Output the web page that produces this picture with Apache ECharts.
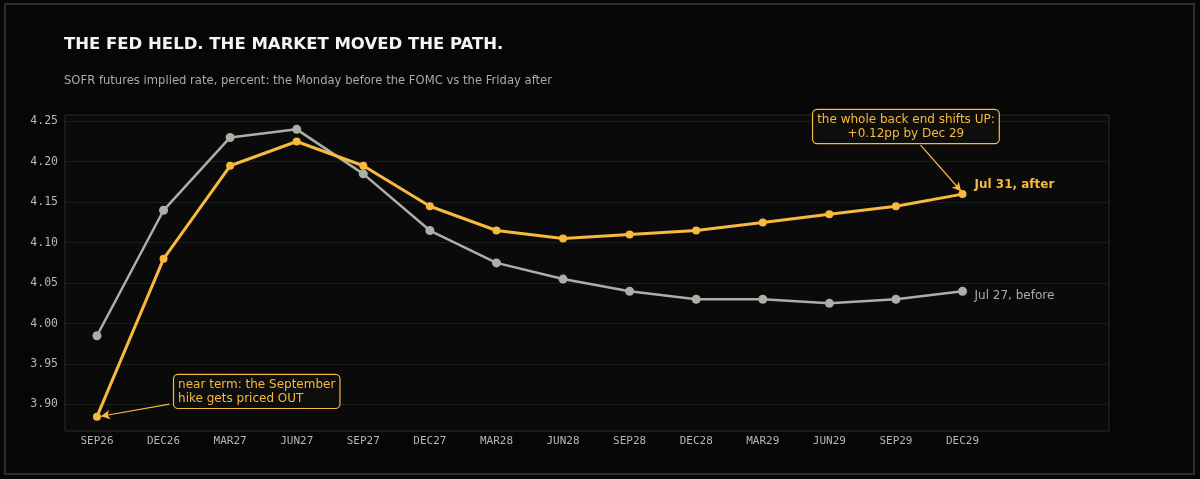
<!DOCTYPE html>
<html>
<head>
<meta charset="utf-8">
<script src="https://cdn.jsdelivr.net/npm/echarts@6/dist/echarts.min.js"></script>
<style>
  html, body { margin: 0; padding: 0; background: #060606; }
  #chart { width: 1200px; height: 479px; }
</style>
</head>
<body>
<div id="chart"></div>
<script>
var contracts = ['SEP26', 'DEC26', 'MAR27', 'JUN27', 'SEP27', 'DEC27', 'MAR28',
                 'JUN28', 'SEP28', 'DEC28', 'MAR29', 'JUN29', 'SEP29', 'DEC29'];
// Monday before the FOMC
var before = [3.985, 4.14, 4.23, 4.24, 4.185, 4.115, 4.075,
              4.055, 4.04, 4.03, 4.03, 4.025, 4.03, 4.04];
// Friday after
var after = [3.885, 4.08, 4.195, 4.225, 4.195, 4.145, 4.115,
             4.105, 4.11, 4.115, 4.125, 4.135, 4.145, 4.16];
var yTicks = [3.90, 3.95, 4.00, 4.05, 4.10, 4.15, 4.20, 4.25];

var orange = '#f7b93e';
var grey = '#a9b0a6';

function pairs(vals) {
    return vals.map(function (v, i) { return [i, v]; });
}
var xIdx = contracts.map(function (c, i) { return i; });

var myChart = echarts.init(document.getElementById('chart'));
var option = {
    backgroundColor: '#060606',
    animation: false,
    graphic: [{
        type: 'rect',
        shape: { x: 5, y: 4, width: 1189, height: 470 },
        style: { fill: 'none', stroke: '#2c2e2c', lineWidth: 2 },
        silent: true
    }],
    title: {
        text: 'THE FED HELD. THE MARKET MOVED THE PATH.',
        subtext: 'SOFR futures implied rate, percent: the Monday before the FOMC vs the Friday after',
        left: 59,
        top: 31,
        itemGap: 22,
        textStyle: { color: '#f4f4f0', fontFamily: 'DejaVu Sans', fontWeight: 'bold', fontSize: 16.5 },
        subtextStyle: { color: '#a8aca4', fontFamily: 'DejaVu Sans', fontSize: 11.6 }
    },
    grid: {
        left: 65, right: 91, top: 115, bottom: 48,
        show: true,
        backgroundColor: '#0a0a0a',
        borderColor: '#2a2c2a',
        borderWidth: 1
    },
    xAxis: {
        type: 'value',
        min: -0.48,
        max: 15.2,
        axisLine: { show: false },
        axisTick: { show: false, customValues: xIdx },
        splitLine: { show: false },
        axisLabel: {
            customValues: xIdx,
            formatter: function (v) { return contracts[v] || ''; },
            color: '#b4b8b0',
            fontFamily: 'DejaVu Sans Mono',
            fontSize: 11,
            margin: 5
        }
    },
    yAxis: {
        type: 'value',
        min: 3.86725,
        max: 4.25775,
        axisLine: { show: false },
        axisTick: { show: false, customValues: yTicks },
        splitLine: { show: true, lineStyle: { color: '#1a1d1a', width: 1 } },
        axisLabel: {
            customValues: yTicks,
            formatter: function (v) { return v.toFixed(2); },
            color: '#b4b8b0',
            fontFamily: 'DejaVu Sans Mono',
            fontSize: 11.5,
            margin: 7
        }
    },
    series: [
        {
            name: 'Jul 27, before',
            type: 'line',
            data: pairs(before),
            color: grey,
            symbol: 'circle',
            symbolSize: 9,
            lineStyle: { width: 2.5 },
            z: 2,
            endLabel: {
                show: true,
                formatter: 'Jul 27, before',
                color: '#a9aea6',
                fontFamily: 'DejaVu Sans',
                fontSize: 12,
                offset: [4, 5]
            }
        },
        {
            name: 'Jul 31, after',
            type: 'line',
            data: pairs(after),
            color: orange,
            symbol: 'circle',
            symbolSize: 8,
            lineStyle: { width: 3 },
            z: 3,
            endLabel: {
                show: true,
                formatter: 'Jul 31, after',
                color: orange,
                fontFamily: 'DejaVu Sans',
                fontWeight: 'bold',
                fontSize: 12,
                offset: [4, -9]
            },
            markLine: {
                silent: true,
                symbol: ['none', 'arrow'],
                symbolSize: [7, 9],
                lineStyle: { color: orange, width: 1.2, type: 'solid' },
                label: { show: false },
                data: [
                    [{ coord: [12.37, 4.2205] }, { coord: [12.98, 4.1635] }],
                    [{ coord: [1.09, 3.9005] }, { coord: [0.06, 3.8855] }]
                ]
            },
            markPoint: {
                silent: true,
                symbol: 'circle',
                symbolSize: 0,
                label: {
                    show: true,
                    color: orange,
                    fontFamily: 'DejaVu Sans',
                    fontSize: 12,
                    lineHeight: 14,
                    backgroundColor: '#0e0f0d',
                    borderColor: orange,
                    borderWidth: 1.2,
                    borderRadius: 4,
                    padding: [3, 4, 2, 4]
                },
                data: [
                    {
                        coord: [12.15, 4.2435],
                        label: {
                            formatter: 'the whole back end shifts UP:\n+0.12pp by Dec 29',
                            align: 'center',
                            position: 'inside'
                        }
                    },
                    {
                        coord: [2.36, 3.9162],
                        label: {
                            formatter: 'near term: the September\nhike gets priced OUT',
                            align: 'left',
                            position: 'inside',
                            offset: [-80, 0]
                        }
                    }
                ]
            }
        }
    ]
};

myChart.setOption(option);
</script>
</body>
</html>
